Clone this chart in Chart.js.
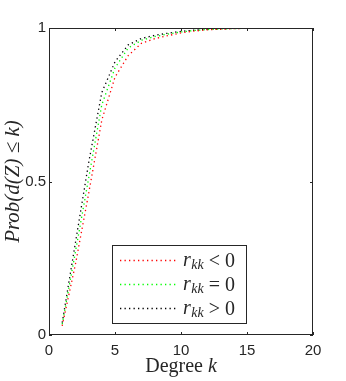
<!DOCTYPE html>
<html>
<head>
<meta charset="utf-8">
<script src="https://cdn.jsdelivr.net/npm/chart.js@4.4.1/dist/chart.umd.min.js"></script>
<style>
    html, body { margin: 0; padding: 0; background: #fff; }
    #wrap { width: 346px; height: 381px; }
</style>
</head>
<body>
<div id="wrap"><canvas id="cdfChart"></canvas></div>
<script>
// degree k and cumulative probabilities
const degrees = [1, 2, 3, 4, 5, 6, 7, 8, 9, 10, 11, 12, 13, 14, 15, 16, 17, 18];
const negValues = [0.03, 0.23, 0.46, 0.70, 0.84, 0.91, 0.95, 0.965, 0.975, 0.984, 0.99, 0.994, 0.996, 0.998, 0.999, 0.999, 1, 1];
const zeroValues = [0.035, 0.27, 0.51, 0.75, 0.87, 0.935, 0.96, 0.972, 0.98, 0.987, 0.992, 0.995, 0.997, 0.998, 0.999, 1, 1, 1];
const posValues = [0.04, 0.30, 0.56, 0.79, 0.89, 0.945, 0.966, 0.976, 0.983, 0.989, 0.993, 0.996, 0.998, 0.999, 0.999, 1, 1, 1];
const xTicks = [0, 5, 10, 15, 20];
const yTicks = [0, 0.5, 1];
const legendOps = ['<', '=', '>'];
const legendRhs = ['0', '0', '0'];
const seriesColors = ['#ff0000', '#00ff00', '#000000'];

const axisColor = '#262626';

function toPoints(values) {
    return degrees.map((k, i) => ({x: k, y: values[i]}));
}

// MATLAB-like box, inward ticks, x label and inset legend
const matlabAxes = {
    id: 'matlabAxes',
    afterDatasetsDraw(chart) {
        const ctx = chart.ctx;
        const area = chart.chartArea;
        const xs = chart.scales.x;
        const ys = chart.scales.y;
        ctx.save();
        ctx.strokeStyle = axisColor;
        ctx.lineWidth = 1;
        ctx.strokeRect(area.left + 0.5, area.top + 0.5, area.right - area.left - 1, area.bottom - area.top - 1);

        ctx.beginPath();
        xTicks.forEach(v => {
            let px = Math.round(xs.getPixelForValue(v)) + 0.5;
            ctx.moveTo(px, area.bottom);
            ctx.lineTo(px, area.bottom - 3);
            ctx.moveTo(px, area.top);
            ctx.lineTo(px, area.top + 3);
        });
        yTicks.forEach(v => {
            let py = Math.round(ys.getPixelForValue(v)) + 0.5;
            ctx.moveTo(area.left, py);
            ctx.lineTo(area.left + 3, py);
            ctx.moveTo(area.right, py);
            ctx.lineTo(area.right - 3, py);
        });
        ctx.stroke();

        // x axis title: "Degree k"
        ctx.fillStyle = axisColor;
        ctx.textBaseline = 'middle';
        ctx.font = '20px "Liberation Serif"';
        let w1 = ctx.measureText('Degree ').width;
        ctx.font = 'italic 20px "Liberation Serif"';
        let w2 = ctx.measureText('k').width;
        let cx = (area.left + area.right) / 2;
        let x0 = cx - (w1 + w2) / 2;
        ctx.textAlign = 'left';
        ctx.font = '20px "Liberation Serif"';
        ctx.fillText('Degree ', x0, 367);
        ctx.font = 'italic 20px "Liberation Serif"';
        ctx.fillText('k', x0 + w1, 367);

        // legend box
        let bx = 112.5, by = 245.5, bw = 134, bh = 78;
        ctx.fillStyle = '#fff';
        ctx.fillRect(bx, by, bw, bh);
        ctx.strokeStyle = axisColor;
        ctx.strokeRect(bx, by, bw, bh);

        let rows = [260, 284, 308];
        chart.data.datasets.forEach((ds, i) => {
            let ry = rows[i];
            ctx.save();
            ctx.strokeStyle = ds.borderColor;
            ctx.lineWidth = ds.borderWidth;
            ctx.setLineDash(ds.borderDash);
            ctx.beginPath();
            ctx.moveTo(120, ry + 0.5);
            ctx.lineTo(178, ry + 0.5);
            ctx.stroke();
            ctx.restore();

            ctx.fillStyle = axisColor;
            ctx.textBaseline = 'alphabetic';
            let tx = 183;
            ctx.font = 'italic 20px "Liberation Serif"';
            ctx.fillText('r', tx, ry + 6);
            tx += ctx.measureText('r').width + 0.5;
            ctx.font = 'italic 14px "Liberation Serif"';
            ctx.fillText('kk', tx, ry + 9);
            tx += ctx.measureText('kk').width + 5;
            ctx.font = '20px "Liberation Serif"';
            ctx.fillText(legendOps[i], tx, ry + 7);
            tx += ctx.measureText(legendOps[i]).width + 5;
            ctx.fillText(legendRhs[i], tx, ry + 7);
        });
        ctx.restore();
    }
};

const ctx = document.getElementById('cdfChart').getContext('2d');
new Chart(ctx, {
    type: 'line',
    data: {
        datasets: [
            {label: 'r_kk < 0', data: toPoints(negValues), borderColor: seriesColors[0]},
            {label: 'r_kk = 0', data: toPoints(zeroValues), borderColor: seriesColors[1]},
            {label: 'r_kk > 0', data: toPoints(posValues), borderColor: seriesColors[2]}
        ].map(ds => Object.assign(ds, {
            borderWidth: 1.3,
            borderDash: [1.3, 3.2],
            pointRadius: 0,
            fill: false,
            tension: 0
        }))
    },
    options: {
        responsive: true,
        maintainAspectRatio: false,
        animation: false,
        devicePixelRatio: 1,
        layout: {padding: {top: 28, right: 33, left: 0, bottom: 0}},
        plugins: {
            legend: {display: false},
            tooltip: {enabled: false}
        },
        scales: {
            x: {
                type: 'linear',
                min: 0,
                max: 20,
                afterBuildTicks: s => { s.ticks = xTicks.map(v => ({value: v})); },
                afterFit: s => { s.height = 46; },
                grid: {display: false, drawTicks: false},
                border: {display: false},
                ticks: {
                    padding: 7,
                    color: axisColor,
                    font: {family: '"Liberation Sans"', size: 15},
                    maxRotation: 0,
                    callback: v => String(v)
                }
            },
            y: {
                min: 0,
                max: 1,
                afterBuildTicks: s => { s.ticks = yTicks.map(v => ({value: v})); },
                afterFit: s => { s.width = 49; },
                grid: {display: false, drawTicks: false},
                border: {display: false},
                ticks: {
                    padding: 3,
                    color: axisColor,
                    font: {family: '"Liberation Sans"', size: 15},
                    callback: v => String(v)
                },
                title: {
                    display: true,
                    text: 'Prob(d(Z) \u2264 k)',
                    color: axisColor,
                    font: {family: '"Liberation Serif"', size: 21, style: 'italic'},
                    padding: {top: 1, bottom: 0}
                }
            }
        }
    },
    plugins: [matlabAxes]
});
</script>
</body>
</html>
